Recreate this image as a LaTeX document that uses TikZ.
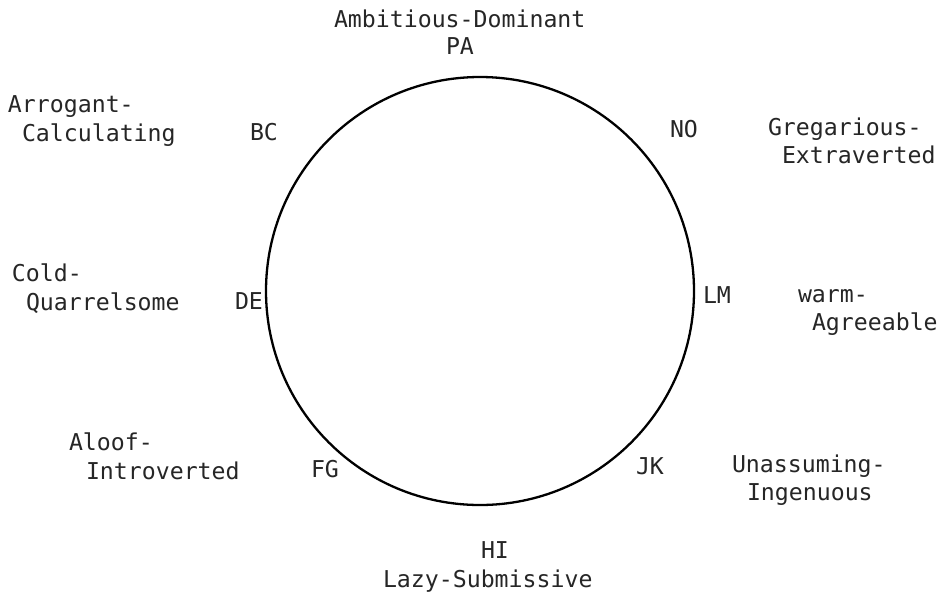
\documentclass[tikz,border=0pt]{standalone}
\usepackage{fontspec}
\setmonofont{DejaVu Sans Mono}
\begin{document}
\begin{tikzpicture}[x=1pt,y=-1pt,
  lab/.style={anchor=base west,inner sep=0pt,outer sep=0pt,
    font=\ttfamily\fontsize{23.2}{29}\selectfont,text=black!85},
  ring/.style={draw=black,line width=2.3pt}]
\useasboundingbox (0,0) rectangle (944,598);
\fill[white] (0,0) rectangle (944,598);
% circle
\node[ring,circle,minimum size=428pt,inner sep=0pt] (c) at (480,291) {};
% top
\node[lab] (amb) at (334,27) {Ambitious-Dominant};
\node[lab] (pa) at (446,54) {PA};
% upper left
\node[lab] (arr1) at (8,112) {Arrogant-};
\node[lab] (arr2) at (22,141) {Calculating};
\node[lab] (bc) at (250,140) {BC};
% upper right
\node[lab] (no) at (670,137) {NO};
\node[lab] (gre1) at (768,135) {Gregarious-};
\node[lab] (gre2) at (782,163) {Extraverted};
% left
\node[lab] (cold1) at (12,281) {Cold-};
\node[lab] (cold2) at (26,310) {Quarrelsome};
\node[lab] (de) at (235,309) {DE};
% right
\node[lab] (lm) at (703,303) {LM};
\node[lab] (warm1) at (798,302) {warm-};
\node[lab] (warm2) at (812,330) {Agreeable};
% lower left
\node[lab] (alo1) at (69,450) {Aloof-};
\node[lab] (alo2) at (86,479) {Introverted};
\node[lab] (fg) at (311,477) {FG};
% lower right
\node[lab] (jk) at (636,474) {JK};
\node[lab] (una1) at (732,472) {Unassuming-};
\node[lab] (una2) at (747,500) {Ingenuous};
% bottom
\node[lab] (hi) at (481,558) {HI};
\node[lab] (lazy) at (383,587) {Lazy-Submissive};
\end{tikzpicture}
\end{document}
